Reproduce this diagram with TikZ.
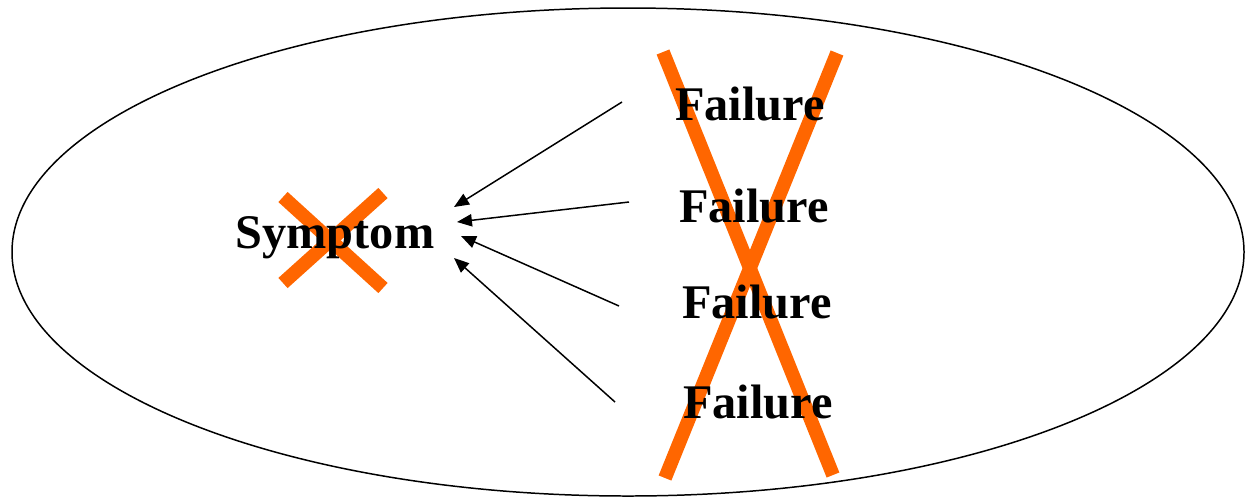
\documentclass[tikz,border=0pt]{standalone}
\usepackage{fontspec}
\setmainfont{Liberation Serif}
\usetikzlibrary{arrows.meta}
\definecolor{xorange}{HTML}{FF6600}
\begin{document}
\begin{tikzpicture}[x=0.02cm,y=-0.02cm,
  word/.style={font=\fontsize{27.5}{31}\selectfont\bfseries, inner sep=0pt, anchor=base},
  cross/.style={draw=xorange, line width=7.8pt},
  link/.style={-{Triangle[length=8.5pt,width=7pt]}, line width=0.85pt}]
\useasboundingbox (0,0) rectangle (1246,498);

% outer boundary
\draw[line width=0.85pt] (628,252) ellipse [x radius=616, y radius=244];

% strike-through crosses
\draw[cross] (283,197) -- (383,288);
\draw[cross] (383,193) -- (283,283);
\draw[cross] (663,52) -- (833,475);
\draw[cross] (837,53) -- (665,478);

% labels
\node[word] (symptom) at (335,248) {Symptom};
\node[word] (f1) at (750,120) {Failure};
\node[word] (f2) at (754,222) {Failure};
\node[word] (f3) at (757,318) {Failure};
\node[word] (f4) at (758,418) {Failure};

% arrow end points
\coordinate (s1) at (622,102);
\coordinate (s2) at (629,202);
\coordinate (s3) at (619,306);
\coordinate (s4) at (615,402);
\coordinate (t1) at (454,207);
\coordinate (t2) at (457,222);
\coordinate (t3) at (461,236);
\coordinate (t4) at (454,258);

\draw[link] (s1) -- (t1);
\draw[link] (s2) -- (t2);
\draw[link] (s3) -- (t3);
\draw[link] (s4) -- (t4);
\end{tikzpicture}
\end{document}
